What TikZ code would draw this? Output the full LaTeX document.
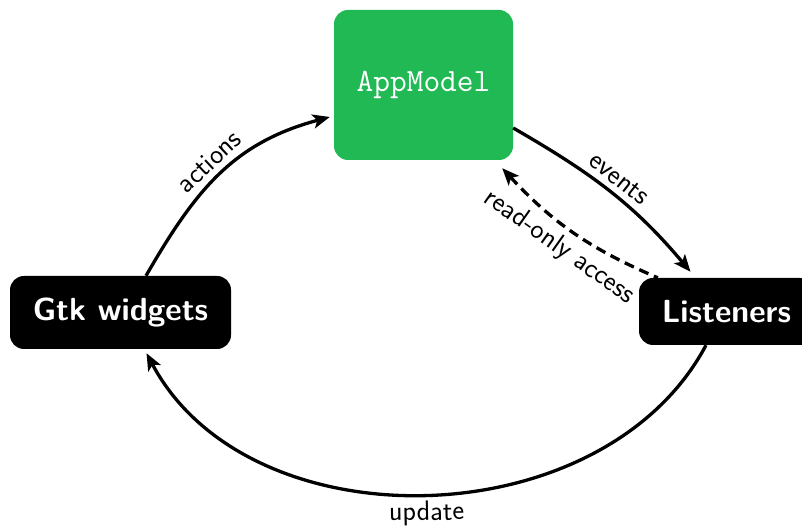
\documentclass[tikz,border=0pt]{standalone}
\usetikzlibrary{arrows.meta,calc}
\definecolor{modelgreen}{RGB}{32,185,84}
\begin{document}
\begin{tikzpicture}[x=1pt,y=1pt,
  >={Stealth[length=17pt,width=14pt,inset=4pt]},
  box/.style={fill=black,text=white,rounded corners=14pt,inner sep=0pt,
    font=\sffamily\bfseries\fontsize{32}{38}\selectfont},
  conn/.style={line width=3.3pt},
  lbl/.style={font=\sffamily\fontsize{28}{32}\selectfont,sloped,inner sep=6pt}]
\useasboundingbox (0,0) rectangle (802,526);

% the three parts of the application
\node[box,fill=modelgreen,minimum width=179pt,minimum height=150pt,
  font=\ttfamily\fontsize{32.5}{38}\selectfont] (app) at (423.5,441) {AppModel};
\node[box,minimum width=221pt,minimum height=73pt] (gtk) at (120.5,213.5) {Gtk widgets};
\node[box,minimum width=175pt,minimum height=67pt] (lis) at (726.5,214.5) {Listeners};

% data flow between them
\draw[conn,->] ($(gtk.north)+(25.5,0)$) to[out=60,in=195,looseness=1.05]
  node[lbl,above,pos=0.5] {actions} ($(app.west)+(-4,-32)$);
\draw[conn,->] ($(app.east)+(0,-43)$) to[out=-30,in=130]
  node[lbl,above,pos=0.5] {events} ($(lis.north)+(-36,6)$);
\draw[conn,<-,dash pattern=on 10pt off 6pt] ($(app.south east)+(-11,-8)$) to[bend right=12]
  node[lbl,below,pos=0.5,xshift=-3pt] {read-only access} ($(lis.north west)+(19,0)$);
\draw[conn,<-] ($(gtk.south)+(26,-4)$) to[out=-62,in=-118]
  node[lbl,below,pos=0.5,inner sep=5pt] {update} ($(lis.south)+(-20.5,0)$);
\end{tikzpicture}
\end{document}
